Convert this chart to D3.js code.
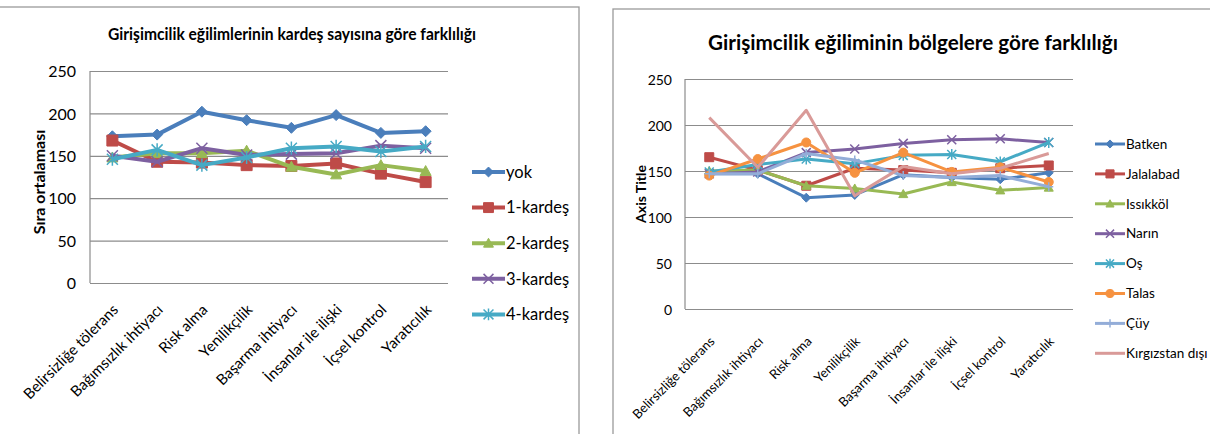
<!DOCTYPE html>
<html>
<head>
<meta charset="utf-8">
<script src="https://cdn.jsdelivr.net/npm/d3@7"></script>
<style>
  html, body { margin: 0; padding: 0; background: #fff; }
  svg { display: block; }
  text { font-family: Lato, "Open Sans", sans-serif; fill: #000; }
</style>
</head>
<body>
<svg id="chart" width="1210" height="434"></svg>
<script>
// ---------- data ----------
const categories = ["Belirsizliğe tölerans", "Bağımsızlık ihtiyacı", "Risk alma", "Yenilikçilik",
  "Başarma ihtiyacı", "İnsanlar ile ilişki", "İçsel kontrol", "Yaratıcılık"];
const yTicks = [0, 50, 100, 150, 200, 250];

// left chart: by number of siblings
const kardesNames = ["yok", "1-kardeş", "2-kardeş", "3-kardeş", "4-kardeş"];
const yok     = [173, 175, 202, 192, 183, 198, 177, 179];
const kardes1 = [168, 143, 142, 139, 138, 141, 129, 119];
const kardes2 = [148, 153, 153, 156, 137, 128, 139, 132];
const kardes3 = [150, 143, 159, 151, 152, 153, 162, 159];
const kardes4 = [146, 157, 139, 148, 159, 161, 155, 161];

// right chart: by region
const bolgeNames = ["Batken", "Jalalabad", "Issıkköl", "Narın", "Oş", "Talas", "Çüy", "Kırgızstan dışı"];
const batken    = [147, 147, 121, 124, 146, 143, 141, 148];
const jalalabad = [165, 151, 134, 153, 151, 148, 153, 156];
const issikkol  = [150, 151, 134, 131, 125, 138, 129, 132];
const narin     = [147, 149, 170, 174, 180, 184, 185, 181];
const os        = [149, 157, 163, 158, 167, 168, 160, 181];
const talas     = [145, 163, 181, 148, 170, 149, 154, 138];
const cuy       = [147, 147, 169, 162, 145, 143, 145, 133];
const kirgizstanDisi = [208, 154, 216, 123, 155, 147, 153, 169];

// ---------- styles ----------
const C = {
  blue: "#4A7EBB", red: "#BE4B48", green: "#98B954", purple: "#7D60A0",
  cyan: "#46AAC5", orange: "#F69240", light: "#93ADD8", pink: "#D99A98"
};

function markerPath(type, s) {
  switch (type) {
    case "diamond": return `M0,${-s}L${s},0L0,${s}L${-s},0Z`;
    case "square": return `M${-s},${-s}H${s}V${s}H${-s}Z`;
    case "triangle": return `M0,${-s}L${s},${s * 0.8}L${-s},${s * 0.8}Z`;
    case "circle": return `M${s},0A${s},${s} 0 1,1 ${-s},0A${s},${s} 0 1,1 ${s},0Z`;
    case "x": return `M${-s},${-s}L${s},${s}M${-s},${s}L${s},${-s}`;
    case "asterisk": return `M${-s},${-s}L${s},${s}M${-s},${s}L${s},${-s}M0,${-s * 1.2}L0,${s * 1.2}`;
    case "plus": return `M0,${-s}L0,${s}M${-s},0L${s},0`;
    default: return "";
  }
}
const strokeOnly = t => t === "x" || t === "asterisk" || t === "plus";

const svg = d3.select("#chart");

function drawChart(cfg) {
  const g = svg.append("g");
  // frame
  g.append("rect").attr("x", cfg.frame[0]).attr("y", cfg.frame[1])
    .attr("width", cfg.frame[2]).attr("height", cfg.frame[3])
    .attr("fill", "none").attr("stroke", "#9a9a9a").attr("stroke-width", 1.3);

  const x = d3.scaleBand().domain(categories).range([cfg.plot.x0, cfg.plot.x1]).padding(0);
  const y = d3.scaleLinear().domain([0, 250]).range([cfg.plot.y1, cfg.plot.y0]);

  // grid lines
  g.append("g").attr("transform", `translate(${cfg.plot.x0},0)`)
    .call(d3.axisLeft(y).tickValues(yTicks).tickSize(-(cfg.plot.x1 - cfg.plot.x0)).tickFormat(""))
    .call(a => a.select(".domain").remove())
    .call(a => a.selectAll("line").attr("stroke", "#8c8c8c").attr("stroke-width", 1.2));
  // vertical axis line
  g.append("line").attr("x1", cfg.plot.x0).attr("x2", cfg.plot.x0)
    .attr("y1", y(250)).attr("y2", y(0)).attr("stroke", "#8c8c8c").attr("stroke-width", 1.2);

  // y tick labels
  g.append("g").attr("transform", `translate(${cfg.yLabelX},0)`)
    .call(d3.axisLeft(y).tickValues(yTicks).tickSize(0).tickPadding(0))
    .call(a => a.select(".domain").remove())
    .call(a => a.selectAll("text").style("font-family", "Lato, sans-serif")
      .style("font-size", cfg.tickFont + "px").attr("fill", "#000").attr("dy", "0.36em"));

  // x labels
  g.append("g").attr("transform", `translate(0,${cfg.plot.y1})`)
    .call(d3.axisBottom(x).tickSize(0).tickPadding(0))
    .call(a => a.select(".domain").remove())
    .call(a => a.selectAll("text")
      .style("font-family", "Lato, sans-serif").style("font-size", cfg.xFont + "px").attr("fill", "#000")
      .attr("text-anchor", "end").attr("dy", "0.35em").attr("y", 0)
      .attr("transform", `translate(${cfg.xLabOff[0]},${cfg.xLabOff[1]}) rotate(-45)`));

  // axis title
  g.append("text").attr("transform", `translate(${cfg.axisTitle.x},${cfg.axisTitle.y}) rotate(-90)`)
    .attr("text-anchor", "middle").attr("dy", "0.35em")
    .style("font-size", cfg.axisTitle.size + "px").style("font-weight", "bold")
    .text(cfg.axisTitle.text);

  // title
  g.append("text").attr("x", cfg.title.x).attr("y", cfg.title.y).attr("dy", "0.35em")
    .attr("text-anchor", "middle").style("font-size", cfg.title.size + "px").style("font-weight", "bold")
    .attr("textLength", cfg.title.len).attr("lengthAdjust", "spacingAndGlyphs")
    .text(cfg.title.text);

  // series
  const line = d3.line().x((d, i) => x(categories[i]) + x.bandwidth() / 2).y(d => y(d));
  cfg.series.forEach(s => {
    const sg = g.append("g");
    sg.append("path").attr("d", line(s.values)).attr("fill", "none")
      .attr("stroke", s.color).attr("stroke-width", cfg.lineW).attr("stroke-linejoin", "round");
    if (s.marker) {
      sg.selectAll("path.m").data(s.values).join("path").attr("class", "m")
        .attr("transform", (d, i) => `translate(${x(categories[i]) + x.bandwidth() / 2},${y(d)})`)
        .attr("d", markerPath(s.marker, cfg.markerS))
        .attr("fill", strokeOnly(s.marker) ? "none" : s.color)
        .attr("stroke", s.color).attr("stroke-width", strokeOnly(s.marker) ? 1.5 : 1);
    }
  });

  // legend
  const lg = g.append("g");
  cfg.series.forEach((s, i) => {
    const ly = cfg.legend.y0 + i * cfg.legend.dy;
    lg.append("line").attr("x1", cfg.legend.x0).attr("x2", cfg.legend.x1)
      .attr("y1", ly).attr("y2", ly).attr("stroke", s.color).attr("stroke-width", cfg.lineW);
    if (s.marker) {
      lg.append("path").attr("transform", `translate(${(cfg.legend.x0 + cfg.legend.x1) / 2},${ly})`)
        .attr("d", markerPath(s.marker, cfg.markerS * 0.9))
        .attr("fill", strokeOnly(s.marker) ? "none" : s.color)
        .attr("stroke", s.color).attr("stroke-width", strokeOnly(s.marker) ? 1.5 : 1);
    }
    lg.append("text").attr("x", cfg.legend.x1 + 1).attr("y", ly).attr("dy", "0.35em")
      .style("font-size", cfg.legend.size + "px").text(s.name);
  });
}

drawChart({
  frame: [-5, 7, 584, 440],
  plot: { x0: 90, x1: 448, y0: 71, y1: 283 },
  yLabelX: 76, tickFont: 16, xFont: 15, xLabOff: [3, 24],
  axisTitle: { text: "Sıra ortalaması", x: 39, y: 182, size: 16 },
  title: { text: "Girişimcilik eğilimlerinin kardeş sayısına göre farklılığı", x: 292, y: 34, size: 17, len: 368 },
  lineW: 4, markerS: 5.5,
  legend: { x0: 472, x1: 505, y0: 172, dy: 35.6, size: 16.5 },
  series: [
    { name: kardesNames[0], values: yok, color: C.blue, marker: "diamond" },
    { name: kardesNames[1], values: kardes1, color: C.red, marker: "square" },
    { name: kardesNames[2], values: kardes2, color: C.green, marker: "triangle" },
    { name: kardesNames[3], values: kardes3, color: C.purple, marker: "x" },
    { name: kardesNames[4], values: kardes4, color: C.cyan, marker: "asterisk" }
  ]
});

drawChart({
  frame: [613, 9, 620, 440],
  plot: { x0: 685, x1: 1073, y0: 79, y1: 309 },
  yLabelX: 672, tickFont: 14, xFont: 13, xLabOff: [3, 30],
  axisTitle: { text: "Axis Title", x: 641, y: 194, size: 14 },
  title: { text: "Girişimcilik eğiliminin bölgelere göre farklılığı", x: 913, y: 43, size: 20, len: 410 },
  lineW: 3, markerS: 4.5,
  legend: { x0: 1095, x1: 1125, y0: 144, dy: 29.9, size: 13.5 },
  series: [
    { name: bolgeNames[0], values: batken, color: C.blue, marker: "diamond" },
    { name: bolgeNames[1], values: jalalabad, color: C.red, marker: "square" },
    { name: bolgeNames[2], values: issikkol, color: C.green, marker: "triangle" },
    { name: bolgeNames[3], values: narin, color: C.purple, marker: "x" },
    { name: bolgeNames[4], values: os, color: C.cyan, marker: "asterisk" },
    { name: bolgeNames[5], values: talas, color: C.orange, marker: "circle" },
    { name: bolgeNames[6], values: cuy, color: C.light, marker: "plus" },
    { name: bolgeNames[7], values: kirgizstanDisi, color: C.pink, marker: null }
  ]
});
</script>
</body>
</html>
